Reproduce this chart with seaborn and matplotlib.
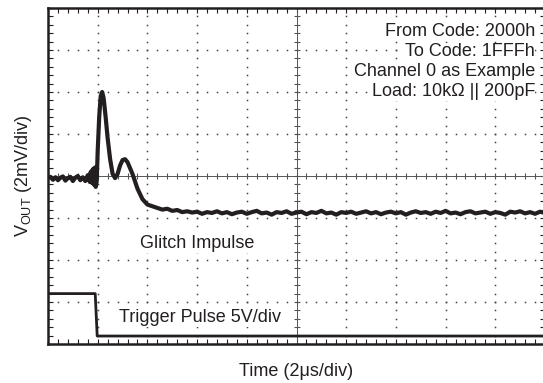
import numpy as np
import seaborn as sns
import matplotlib
matplotlib.use("Agg")
import matplotlib.pyplot as plt

# glitch trace, in scope divisions (x: 2us/div, y: 2mV/div, 0 = screen centre)
glitch_t = [0.00, 0.05, 0.10, 0.15, 0.20, 0.25, 0.30, 0.35, 0.40, 0.45, 0.50, 0.55,
            0.60, 0.65, 0.70, 0.75, 0.80, 0.84, 0.86, 0.88, 0.90, 0.92, 0.94, 0.96,
            0.98, 1.00, 1.03, 1.06, 1.09, 1.12, 1.16, 1.20, 1.25, 1.30, 1.35, 1.40,
            1.45, 1.50, 1.55, 1.60, 1.70, 1.80, 1.90, 2.00, 2.10, 2.20,
            2.30, 2.40, 2.50, 2.60, 2.70, 2.80, 2.90, 3.00, 3.10, 3.20, 3.30, 3.40,
            3.50, 3.60, 3.70, 3.80, 3.90, 4.00, 4.10, 4.20, 4.30, 4.40, 4.50, 4.60,
            4.70, 4.80, 4.90, 5.00, 5.10, 5.20, 5.30, 5.40, 5.50, 5.60, 5.70, 5.80,
            5.90, 6.00, 6.10, 6.20, 6.30, 6.40, 6.50, 6.60, 6.70, 6.80, 6.90, 7.00,
            7.10, 7.20, 7.30, 7.40, 7.50, 7.60, 7.70, 7.80, 7.90, 8.00, 8.10, 8.20,
            8.30, 8.40, 8.50, 8.60, 8.70, 8.80, 8.90, 9.00, 9.10, 9.20, 9.30, 9.40,
            9.50, 9.60, 9.70, 9.80, 9.90, 10.0]
glitch_v = [-0.05, -0.02, -0.09, -0.03, -0.10, -0.04, -0.01, -0.11, -0.05, -0.02, -0.12, -0.04,
            0.00, -0.10, -0.03, -0.12, 0.02, -0.14, 0.10, -0.16, 0.16, -0.20, 0.20, -0.26,
            -0.12, 0.60, 1.40, 1.90, 2.00, 1.85, 1.40, 0.90, 0.40, 0.05, -0.05, 0.05,
            0.25, 0.38, 0.40, 0.33, 0.05, -0.30, -0.55, -0.68, -0.72, -0.76,
            -0.80, -0.78, -0.83, -0.81, -0.86, -0.84, -0.87, -0.85, -0.90, -0.86, -0.88, -0.84,
            -0.89, -0.86, -0.91, -0.87, -0.85, -0.90, -0.86, -0.83, -0.89, -0.87, -0.92, -0.86,
            -0.88, -0.84, -0.90, -0.87, -0.85, -0.91, -0.86, -0.88, -0.83, -0.89, -0.87, -0.92,
            -0.86, -0.88, -0.85, -0.90, -0.87, -0.84, -0.89, -0.86, -0.91, -0.87, -0.85, -0.89,
            -0.86, -0.92, -0.87, -0.84, -0.88, -0.86, -0.90, -0.85, -0.88, -0.83, -0.89, -0.87,
            -0.91, -0.86, -0.84, -0.89, -0.87, -0.85, -0.90, -0.86, -0.88, -0.92, -0.85, -0.87,
            -0.84, -0.89, -0.86, -0.90, -0.85, -0.88]

# trigger pulse trace (5V/div, drawn on the same screen)
trig_t = [0.0, 0.95, 0.99, 10.0]
trig_v = [-2.8, -2.8, -3.81, -3.81]

notes = ["From Code: 2000h", "To Code: 1FFFh", "Channel 0 as Example", "Load: 10k\u03a9 || 200pF"]

sns.set_style("white")
plt.rcParams['font.family'] = ['Liberation Sans', 'DejaVu Sans']
plt.rcParams['mathtext.fontset'] = 'custom'
plt.rcParams['mathtext.rm'] = 'Liberation Sans'

ink = "#231f20"
fs = 13
fig = plt.figure(figsize=(5.43, 3.83), dpi=100)
ax = fig.add_axes([48 / 543, 39 / 383, 497 / 543, 336 / 383])
ax.set_xlim(0, 10)
ax.set_ylim(-4, 4)

# dotted graticule
for gx in [1, 2, 3, 4, 6, 7, 8, 9]:
    ys = np.arange(-4, 4.01, 0.2)
    ax.plot(np.full_like(ys, gx), ys, ls="none", marker="s", ms=1.1, color="#444444", mew=0)
for gy in [-3, -2, -1, 1, 2, 3]:
    xs = np.arange(0, 10.01, 0.2)
    ax.plot(xs, np.full_like(xs, gy), ls="none", marker="s", ms=1.1, color="#444444", mew=0)

# centre cross with ticks
ax.axhline(0, color="#555555", lw=0.7)
ax.axvline(5, color="#555555", lw=0.7)
xs = np.arange(0, 10.01, 0.2)
ax.plot(xs, np.zeros_like(xs), ls="none", marker="|", ms=5, mew=0.8, color="#555555")
ys = np.arange(-4, 4.01, 0.2)
ax.plot(np.full_like(ys, 5), ys, ls="none", marker="_", ms=5, mew=0.8, color="#555555")

sns.lineplot(x=glitch_t, y=glitch_v, ax=ax, estimator=None, sort=False, color=ink, lw=3.0)
sns.lineplot(x=trig_t, y=trig_v, ax=ax, estimator=None, sort=False, color=ink, lw=2.0)

for i, s in enumerate(notes):
    ax.text(9.8, 3.43 - i * 0.475, s, ha="right", va="center", fontsize=fs, color=ink,
            bbox=dict(facecolor="white", edgecolor="none", pad=0.3))
ax.text(3.0, -1.6, "Glitch Impulse", ha="center", va="center", fontsize=fs, color=ink,
        bbox=dict(facecolor="white", edgecolor="none", pad=1))
ax.text(3.05, -3.36, "Trigger Pulse 5V/div", ha="center", va="center", fontsize=fs, color=ink,
        bbox=dict(facecolor="white", edgecolor="none", pad=1))

ax.set_xticks(np.arange(0, 10.01, 1))
ax.set_yticks(np.arange(-4, 4.01, 1))
ax.set_xticks(np.arange(0, 10.01, 0.2), minor=True)
ax.set_yticks(np.arange(-4, 4.01, 0.2), minor=True)
ax.tick_params(which="both", direction="in", length=3.5, width=0.8, color=ink,
               top=True, right=True, bottom=True, left=True,
               labelbottom=False, labelleft=False)
for sp in ax.spines.values():
    sp.set_linewidth(1.8)
    sp.set_color(ink)

ax.set_xlabel("Time (2\u03bcs/div)", fontsize=fs, color=ink, labelpad=14)
ax.set_ylabel(r"V$_{\mathrm{OUT}}$ (2mV/div)", fontsize=fs, color=ink, labelpad=10)

fig.savefig("out.png", dpi=100)
